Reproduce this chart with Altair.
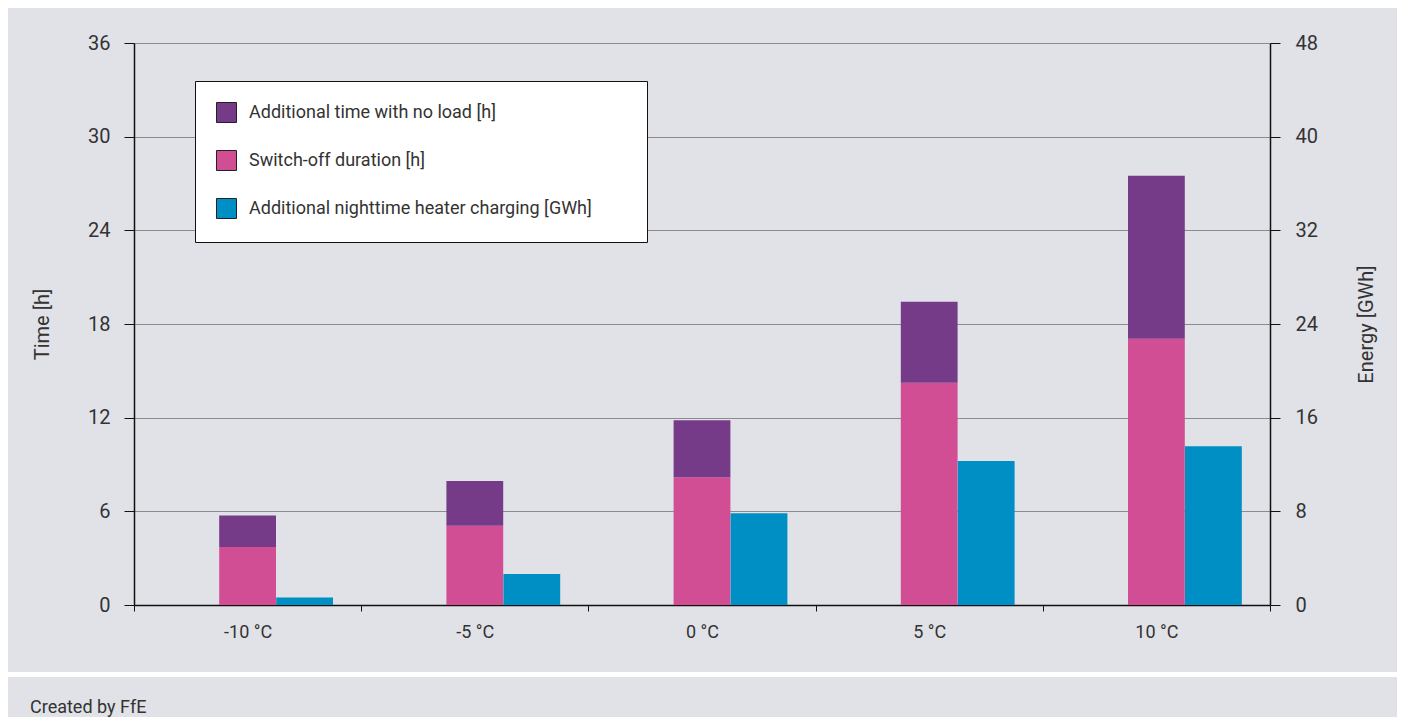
import altair as alt
import pandas as pd

categories = ["-10 °C", "-5 °C", "0 °C", "5 °C", "10 °C"]
switch_off_h = [3.71, 5.07, 8.19, 14.24, 17.05]
no_load_h = [2.03, 2.88, 3.64, 5.19, 10.44]
charging_gwh = [0.63, 2.65, 7.83, 12.29, 13.56]

s_noload = "Additional time with no load [h]"
s_switch = "Switch-off duration [h]"
s_charge = "Additional nighttime heater charging [GWh]"
series = [s_noload, s_switch, s_charge]
colors = ["#753b88", "#d14e94", "#008fc4"]

FONT = "Roboto"
TXT = "#333333"
BG = "#e1e2e7"

rows = []
for c, sw, nl in zip(categories, switch_off_h, no_load_h):
    rows.append({"cat": c, "series": s_switch, "value": sw, "ord": 0})
    rows.append({"cat": c, "series": s_noload, "value": nl, "ord": 1})
time_df = pd.DataFrame(rows)
energy_df = pd.DataFrame({"cat": categories, "series": s_charge, "value": charging_gwh})

W, H = 1136, 562

x_enc = alt.X(
    "cat:N",
    sort=categories,
    scale=alt.Scale(paddingInner=0, paddingOuter=0),
    axis=alt.Axis(
        title=None, labelAngle=0, tickBand="extent", tickSize=6, tickColor="#111111",
        domainColor="#111111", domainWidth=1.5, labelFontSize=18, labelPadding=12,
        labelColor=TXT, grid=False,
    ),
)

color_enc = alt.Color(
    "series:N",
    scale=alt.Scale(domain=series, range=colors),
    legend=alt.Legend(
        title="\u00a0", titleOrient="right", titlePadding=34,
        orient="none", legendX=61, legendY=38, direction="vertical",
        fillColor="white", strokeColor="#111111", padding=21,
        symbolType="square", symbolSize=400, symbolStrokeColor="#222222",
        symbolStrokeWidth=1, symbolOpacity=1,
        labelFontSize=18, labelColor=TXT, labelFont=FONT, labelOffset=12,
        rowPadding=23, labelLimit=600,
    ),
)

stack = alt.Chart(time_df).mark_bar(width={"band": 0.25}).encode(
    x=x_enc,
    y=alt.Y(
        "value:Q", stack="zero",
        scale=alt.Scale(domain=[0, 36], nice=False),
        axis=alt.Axis(
            title="Time [h]", values=[0, 6, 12, 18, 24, 30, 36], tickSize=10,
            tickColor="#111111", domainColor="#111111", domainWidth=1.5,
            gridColor="#8c8c8c", gridWidth=1, labelFontSize=20, labelPadding=14,
            labelColor=TXT, titleFontSize=20, titleFontWeight="normal",
            titleColor=TXT, titlePadding=35,
        ),
    ),
    color=color_enc,
    order=alt.Order("ord:Q", sort="ascending"),
)

charge = alt.Chart(energy_df).mark_bar(width={"band": 0.25}, xOffset=57).encode(
    x=x_enc,
    y=alt.Y(
        "value:Q",
        scale=alt.Scale(domain=[0, 48], nice=False),
        axis=alt.Axis(
            title="Energy [GWh]", orient="right", values=[0, 8, 16, 24, 32, 40, 48],
            tickSize=10, tickColor="#111111", domainColor="#111111", domainWidth=1.5,
            grid=False, labelFontSize=20, labelPadding=15, labelColor=TXT,
            titleFontSize=20, titleFontWeight="normal", titleColor=TXT,
            titleAngle=270, titlePadding=59,
        ),
    ),
    color=color_enc,
)

deco_df = pd.DataFrame({"t": ["Created by FfE"]})
separator = alt.Chart(deco_df).mark_rule(color="white", strokeWidth=5).encode(
    x=alt.value(-126), x2=alt.value(1263), y=alt.value(631.5)
)
footer = alt.Chart(deco_df).mark_text(
    align="left", baseline="middle", fontSize=18, font=FONT, color=TXT
).encode(text="t:N", x=alt.value(-104), y=alt.value(665))

chart = (
    alt.layer(stack, charge, separator, footer)
    .resolve_scale(y="independent")
    .properties(
        width=W, height=H,
        autosize=alt.AutoSizeParams(type="none"),
        padding={"left": 126, "top": 35, "right": 127, "bottom": 112},
        background=BG,
    )
    .configure_view(strokeWidth=0)
    .configure(font=FONT)
)

chart.save("out.html", embed_options={"renderer": "svg", "actions": False})
